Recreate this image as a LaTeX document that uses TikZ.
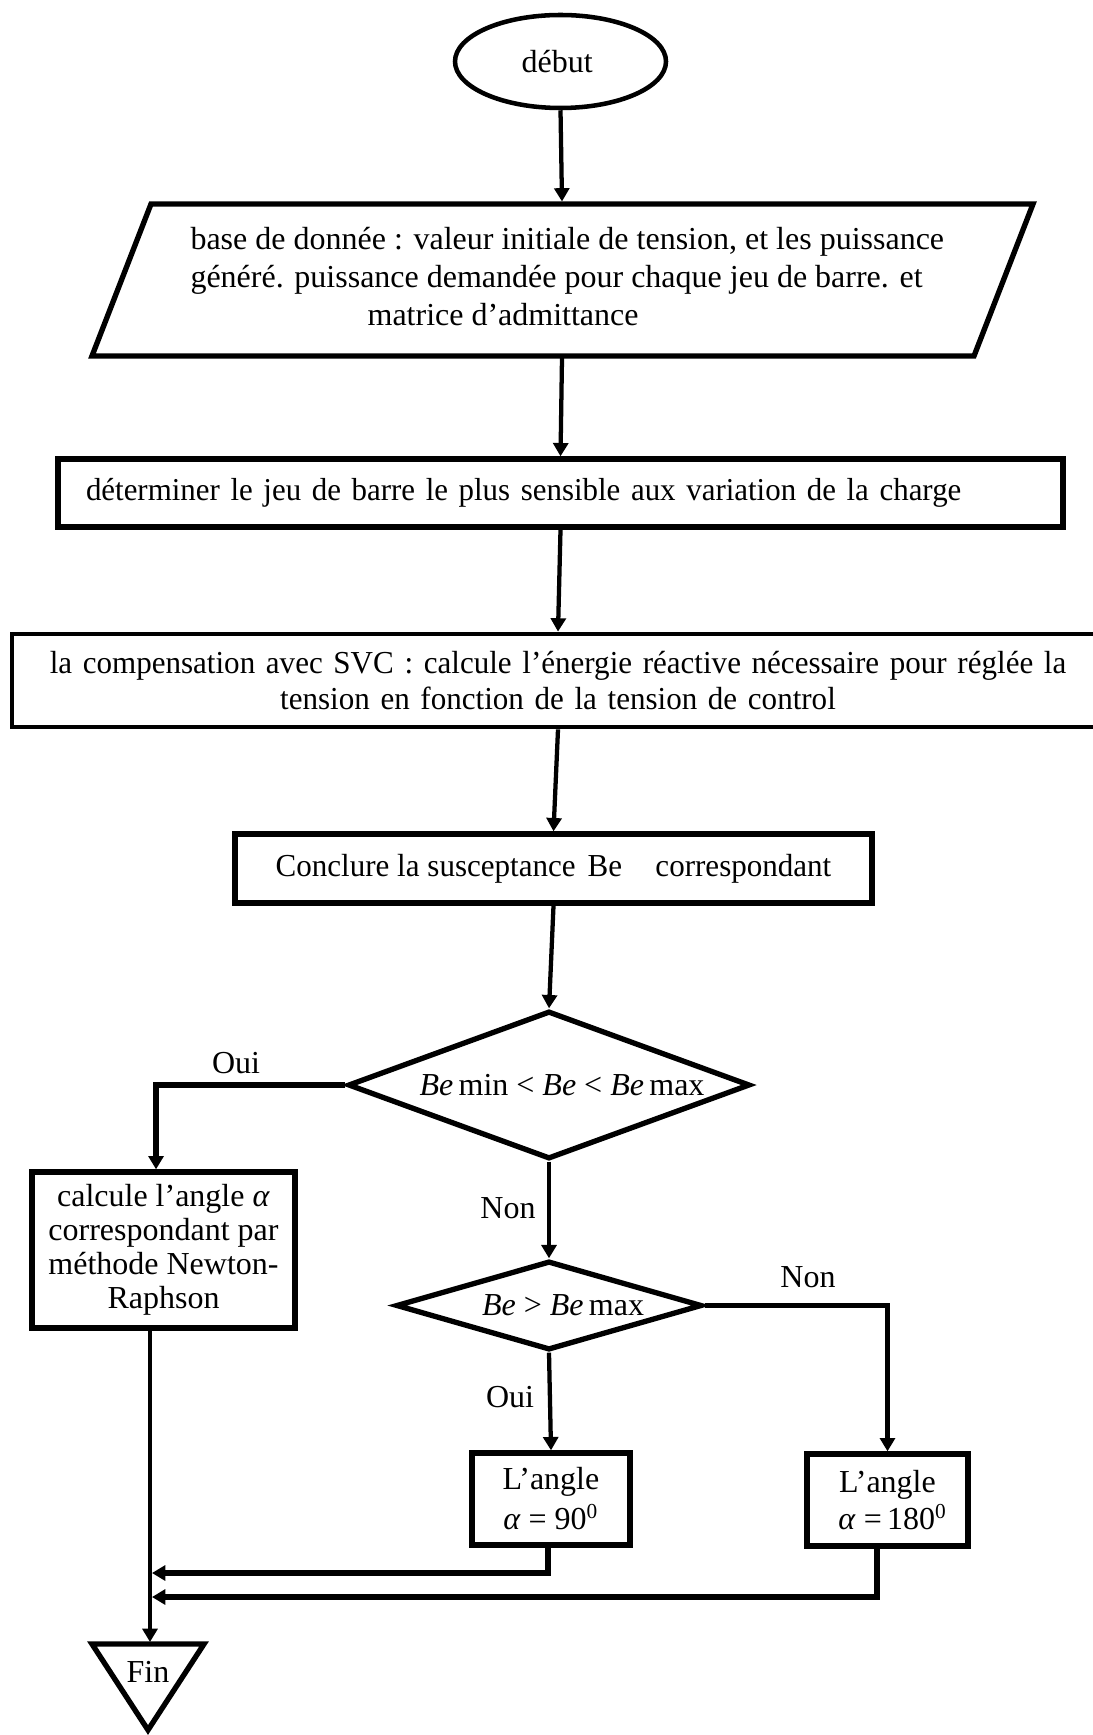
\documentclass[tikz,border=0pt]{standalone}
\usepackage{fontspec}
\setmainfont{Liberation Serif}
\newfontfamily\narrowserif[FakeStretch=0.97]{Liberation Serif}
\usetikzlibrary{shapes.geometric,arrows.meta}
\begin{document}
\begin{tikzpicture}[x=0.375pt,y=-0.375pt,
  every node/.style={font=\fontsize{12pt}{14.25pt}\selectfont},
  shapebox/.style={draw, line width=2pt, rectangle, inner sep=0pt},
  decision/.style={diamond, draw, line width=2pt, inner sep=0pt, aspect=1},
  conn/.style={line width=1.6pt, -{Triangle[length=5pt,width=5.6pt]}},
  connthick/.style={line width=2pt, -{Triangle[length=5pt,width=5.6pt]}},
  lbl/.style={inner sep=0pt}]

\fill[white] (0,0) rectangle (1092,1735);
\useasboundingbox (0,0) rectangle (1092,1735);

% start
\node[ellipse, draw, line width=1.7pt, minimum width=79.125pt, minimum height=34.875pt, inner sep=0pt] (debut) at (560.5,61.5) {début\hspace*{2.5pt}};

% data parallelogram
\draw[line width=2pt] (151,204) -- (1033,204) -- (974,356) -- (92,356) -- cycle;
\coordinate (datatop) at (562,201.5);
\coordinate (databot) at (562,357.5);
\node[inner sep=0pt, anchor=west, align=left, font=\fontsize{12pt}{14.25pt}\selectfont] (data) at (190,277)
  {base de donnée : valeur initiale de tension, et les puissance\\généré. puissance demandée pour chaque jeu de barre. et\\\hspace*{66.4pt}matrice d’admittance};

% determine
\node[shapebox, minimum width=376.875pt, minimum height=25.5pt, text width=355.875pt, inner xsep=10.5pt, align=left, font=\narrowserif\fontsize{11.95pt}{14pt}\selectfont] (det) at (560.5,493)
  {déterminer le jeu de barre le plus sensible aux variation de la charge};

% compensation
\node[shapebox, line width=1.8pt, minimum width=409.5pt, minimum height=34.875pt, text width=400pt, inner xsep=4.75pt, align=center, font=\narrowserif\fontsize{12pt}{13.5pt}\selectfont] (svc) at (558,680.5)
  {la compensation avec SVC : calcule l’énergie réactive nécessaire pour réglée la\\tension en fonction de la tension de control};

% conclude
\node[shapebox, minimum width=238.875pt, minimum height=25.875pt, font=\narrowserif\fontsize{12pt}{14pt}\selectfont] (concl) at (553.5,868.5)
  {Conclure la susceptance\hspace{4.5pt}Be\hspace{12.5pt}correspondant};

% decisions
\node[decision, minimum width=150.75pt, minimum height=55.5pt] (d1) at (549,1085)
  {\makebox[0pt]{\hspace*{9.75pt}\textit{Be}\,min < \textit{Be} < \textit{Be}\,max}};
\node[decision, minimum width=114.75pt, minimum height=33.4pt] (d2) at (549,1305.5)
  {\makebox[0pt]{\hspace*{10.5pt}\textit{Be} > \textit{Be}\,max}};

% Newton-Raphson box
\node[shapebox, minimum width=98.625pt, minimum height=58.5pt, align=center, font=\fontsize{12pt}{12.8pt}\selectfont] (newton) at (163.5,1250)
  {calcule l’angle \textit{α}\\correspondant par\\méthode Newton-\\Raphson};

% angle boxes
\node[shapebox, minimum width=59.25pt, minimum height=34.5pt, align=center, font=\fontsize{12pt}{15pt}\selectfont] (a90) at (551,1499)
  {L’angle\\\textit{α} = 90\textsuperscript{0}};
\node[shapebox, minimum width=60.375pt, minimum height=34.5pt, align=center, font=\fontsize{12pt}{14pt}\selectfont] (a180) at (887.5,1500)
  {L’angle\\\hspace*{4pt}\textit{α} =\,180\textsuperscript{0}};

% end triangle
\draw[line width=2pt] (92,1644) -- (204,1644) -- (148,1730) -- cycle;
\node[lbl] (fin) at (148,1672) {Fin};
\coordinate (fintop) at (150,1642);

% labels
\node[lbl] (oui1) at (236,1063) {Oui};
\node[lbl] (non1) at (508,1208) {Non};
\node[lbl] (non2) at (808,1277) {Non};
\node[lbl] (oui2) at (510,1397) {Oui};

% connectors
\draw[conn] (debut.south) -- (datatop);
\draw[conn] (databot) -- (det.north);
\draw[conn] (det.south) -- (svc.north);
\draw[conn] (svc.south) -- (concl.north);
\draw[conn] (concl.south) -- (d1.north);
\draw[connthick] (d1.west) -| ([xshift=-2.8pt]newton.north);
\draw[conn] (d1.south) -- (d2.north);
\draw[conn] (d2.east) -| (a180.north);
\draw[conn] (d2.south) -- (a90.north);
\draw[conn] (newton.south -| fintop) -- (fintop);
\coordinate (j1) at (152,1573);
\coordinate (j2) at (152,1597);
\draw[connthick] ([xshift=-1.1pt]a90.south) |- (j1);
\draw[connthick] ([xshift=-3.9pt]a180.south) |- (j2);
\end{tikzpicture}
\end{document}
